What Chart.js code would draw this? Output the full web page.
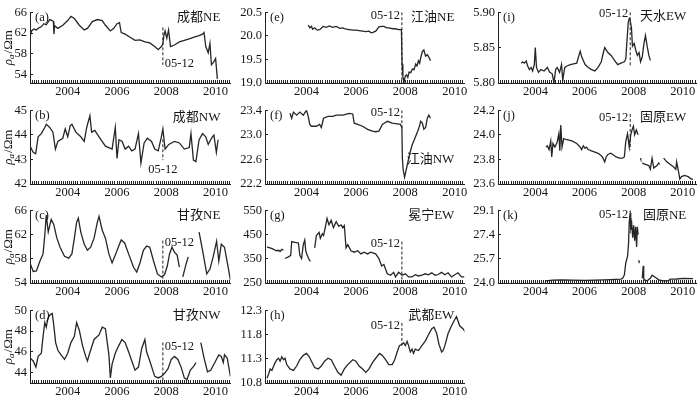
<!DOCTYPE html>
<html>
<head>
<meta charset="utf-8">
<script src="https://cdn.jsdelivr.net/npm/chart.js@4.4.1/dist/chart.umd.min.js"></script>
<style>
  html, body { margin: 0; padding: 0; background: #fff; }
  #wrap { position: relative; width: 700px; height: 397px; overflow: hidden; }
  #wrap canvas { position: absolute; }
</style>
</head>
<body>
<div id="wrap"></div>
<script>
/* ---------- data: [year, apparent resistivity]  (null = gap) ---------- */
const QUAKE = 2008.36;   // 2008-05-12

const chengduNE = [[2002.97,61.2],[2003.03,62.4],[2003.13,62.8],[2003.23,62.6],[2003.33,63.0],[2003.43,63.2],[2003.53,63.8],[2003.63,63.6],[2003.77,64.6],[2003.87,64.4],[2003.92,64.2],[2003.94,61.8],[2003.97,63.4],[2004.1,62.9],[2004.3,63.5],[2004.5,64.4],[2004.63,65.2],[2004.77,64.8],[2004.97,63.5],[2005.17,62.6],[2005.3,62.9],[2005.5,64.2],[2005.7,64.6],[2005.9,64.4],[2006.03,63.5],[2006.23,62.4],[2006.37,62.9],[2006.5,63.8],[2006.6,64.0],[2006.67,62.1],[2006.83,61.8],[2007.03,61.2],[2007.23,60.6],[2007.43,60.7],[2007.63,60.3],[2007.83,60.1],[2008.03,59.4],[2008.17,58.8],[2008.3,59.4],[2008.36,59.9],[2008.4,61.5],[2008.45,62.4],[2008.52,61.0],[2008.59,62.6],[2008.67,59.4],[2008.83,59.7],[2009.03,60.3],[2009.23,60.6],[2009.43,60.9],[2009.63,61.2],[2009.83,61.5],[2009.97,61.8],[2010.03,62.1],[2010.1,59.4],[2010.2,58.2],[2010.27,60.0],[2010.33,55.9],[2010.43,56.5],[2010.5,57.1],[2010.57,53.2]];

const chengduNW = [[2002.97,43.54],[2003.1,43.29],[2003.2,43.23],[2003.3,43.92],[2003.43,44.05],[2003.57,44.3],[2003.63,44.43],[2003.77,44.3],[2003.9,44.11],[2004.0,43.42],[2004.1,43.73],[2004.3,43.86],[2004.4,44.24],[2004.5,43.92],[2004.6,44.37],[2004.67,44.43],[2004.83,44.11],[2005.03,43.92],[2005.17,43.73],[2005.27,44.3],[2005.4,44.78],[2005.47,44.11],[2005.6,44.18],[2005.77,43.92],[2006.03,43.54],[2006.3,43.42],[2006.43,44.3],[2006.5,43.04],[2006.58,43.8],[2006.71,43.73],[2006.83,43.42],[2006.97,43.54],[2007.1,43.35],[2007.23,43.42],[2007.37,44.05],[2007.47,42.85],[2007.6,43.67],[2007.73,43.86],[2007.9,43.73],[2008.03,43.42],[2008.17,43.35],[2008.3,43.92],[2008.36,44.24],[2008.45,43.42],[2008.6,43.61],[2008.83,43.73],[2009.03,43.67],[2009.23,43.42],[2009.43,43.48],[2009.5,44.05],[2009.6,42.97],[2009.7,42.91],[2009.83,43.8],[2009.97,44.05],[2010.1,43.92],[2010.2,43.61],[2010.3,43.8],[2010.37,43.92],[2010.43,43.99],[2010.53,43.29],[2010.6,43.8]];

const ganziNE = [[2002.97,57.3],[2003.1,55.9],[2003.23,56.0],[2003.37,57.6],[2003.5,58.8],[2003.57,61.9],[2003.63,65.2],[2003.71,62.4],[2003.83,64.5],[2003.93,63.7],[2004.06,61.4],[2004.19,59.9],[2004.37,58.4],[2004.54,58.1],[2004.67,58.8],[2004.77,61.4],[2004.86,64.0],[2004.93,64.7],[2005.03,62.4],[2005.17,60.4],[2005.3,59.4],[2005.43,59.9],[2005.57,61.4],[2005.7,64.0],[2005.77,65.0],[2005.9,62.7],[2006.03,61.4],[2006.17,58.8],[2006.3,57.3],[2006.43,58.6],[2006.57,60.1],[2006.67,61.1],[2006.81,60.6],[2006.97,58.8],[2007.17,56.6],[2007.3,55.8],[2007.43,57.3],[2007.57,59.4],[2007.7,60.1],[2007.83,59.9],[2007.97,57.8],[2008.14,55.5],[2008.3,55.0],[2008.43,55.4],[2008.54,56.8],[2008.63,58.8],[2008.73,59.9],[2008.83,59.1],[2008.94,58.6],[2009.03,56.6],[2009.1,null],[2009.17,55.0],[2009.3,57.1],[2009.39,58.3],[2009.6,null],[2009.83,62.4],[2009.97,59.4],[2010.14,55.5],[2010.27,56.3],[2010.4,58.3],[2010.54,60.9],[2010.63,57.6],[2010.73,60.4],[2010.86,59.9],[2011.0,56.8],[2011.1,54.5]];

const ganziNW = [[2002.97,45.41],[2003.1,45.12],[2003.21,44.53],[2003.3,45.56],[2003.43,45.86],[2003.5,47.49],[2003.57,48.82],[2003.63,48.37],[2003.7,49.26],[2003.79,49.56],[2003.87,49.7],[2003.93,48.67],[2004.01,46.89],[2004.1,46.15],[2004.23,45.71],[2004.37,45.27],[2004.5,45.86],[2004.63,46.89],[2004.77,47.49],[2004.86,48.82],[2004.97,48.08],[2005.1,46.6],[2005.23,45.56],[2005.3,45.12],[2005.39,45.86],[2005.57,47.19],[2005.77,47.63],[2005.9,48.37],[2006.03,48.22],[2006.17,45.71],[2006.23,43.49],[2006.3,44.82],[2006.43,45.86],[2006.57,46.6],[2006.7,47.19],[2006.83,46.89],[2006.97,46.0],[2007.1,45.12],[2007.23,44.23],[2007.37,44.53],[2007.5,46.3],[2007.63,47.19],[2007.7,46.0],[2007.83,45.12],[2008.03,43.64],[2008.17,43.49],[2008.3,43.64],[2008.43,43.93],[2008.57,44.38],[2008.7,45.27],[2008.83,45.56],[2008.97,45.27],[2009.1,44.53],[2009.23,43.49],[2009.34,43.34],[2009.47,44.23],[2009.63,44.67],[2009.7,44.97],[2009.8,null],[2009.9,46.89],[2010.03,45.41],[2010.17,44.08],[2010.3,44.23],[2010.5,45.12],[2010.63,45.71],[2010.73,45.56],[2010.81,44.97],[2010.86,45.71],[2010.97,45.41],[2011.1,43.64]];

const jiangyouNE = [[2004.57,20.23],[2004.63,20.17],[2004.7,20.2],[2004.75,20.14],[2004.83,20.17],[2004.93,20.12],[2005.03,20.13],[2005.1,20.16],[2005.17,20.2],[2005.3,20.18],[2005.43,20.21],[2005.55,20.18],[2005.7,20.2],[2005.85,20.16],[2005.97,20.17],[2006.1,20.14],[2006.23,20.13],[2006.37,20.12],[2006.5,20.12],[2006.63,20.11],[2006.77,20.1],[2006.9,20.09],[2007.03,20.1],[2007.1,20.07],[2007.17,20.07],[2007.3,20.1],[2007.43,20.19],[2007.55,20.2],[2007.63,20.2],[2007.75,20.17],[2007.83,20.17],[2008.0,20.15],[2008.1,20.15],[2008.23,20.13],[2008.34,20.13],[2008.37,19.4],[2008.4,19.13],[2008.45,19.03],[2008.5,19.15],[2008.55,19.17],[2008.6,19.12],[2008.65,19.23],[2008.72,19.22],[2008.79,19.3],[2008.85,19.28],[2008.92,19.4],[2008.97,19.36],[2009.03,19.47],[2009.08,19.42],[2009.12,19.53],[2009.19,19.67],[2009.25,19.7],[2009.32,19.57],[2009.39,19.6],[2009.45,19.55],[2009.52,19.47]];

const jiangyouNW = [[2003.83,23.35],[2003.9,23.27],[2003.97,23.37],[2004.1,23.32],[2004.23,23.37],[2004.37,23.32],[2004.5,23.4],[2004.57,23.3],[2004.63,23.17],[2004.7,23.14],[2004.9,23.14],[2005.03,23.17],[2005.1,23.12],[2005.19,23.27],[2005.37,23.3],[2005.57,23.3],[2005.7,23.32],[2005.97,23.32],[2006.23,23.35],[2006.37,23.34],[2006.43,23.19],[2006.57,23.17],[2006.77,23.14],[2006.97,23.09],[2007.17,23.06],[2007.3,23.05],[2007.43,23.06],[2007.57,23.17],[2007.77,23.22],[2007.97,23.19],[2008.17,23.18],[2008.3,23.17],[2008.36,23.12],[2008.38,22.62],[2008.41,22.44],[2008.47,22.31],[2008.53,22.42],[2008.6,22.55],[2008.67,22.68],[2008.77,22.83],[2008.87,22.93],[2009.0,23.06],[2009.07,23.14],[2009.12,23.22],[2009.19,23.19],[2009.25,23.09],[2009.32,23.12],[2009.39,23.27],[2009.45,23.32],[2009.52,23.27]];

const mianningEW = [[2002.9,398],[2003.03,395],[2003.17,389],[2003.27,383],[2003.37,385],[2003.43,380],[2003.5,389],[2003.57,385],[2003.6,null],[2003.63,351],[2003.77,358],[2003.86,364],[2003.9,421],[2004.03,418],[2004.17,415],[2004.23,364],[2004.3,351],[2004.37,408],[2004.43,427],[2004.47,383],[2004.53,364],[2004.61,345],[2004.66,339],[2004.75,null],[2004.83,395],[2004.9,446],[2005.01,459],[2005.06,434],[2005.14,453],[2005.19,446],[2005.27,484],[2005.33,516],[2005.41,490],[2005.5,509],[2005.59,478],[2005.7,503],[2005.81,484],[2005.9,490],[2005.97,478],[2006.03,487],[2006.1,395],[2006.17,408],[2006.3,383],[2006.43,377],[2006.57,383],[2006.7,370],[2006.83,377],[2006.97,370],[2007.1,377],[2007.3,370],[2007.43,351],[2007.54,320],[2007.63,326],[2007.77,288],[2007.9,282],[2008.03,294],[2008.1,275],[2008.23,294],[2008.37,282],[2008.5,288],[2008.63,275],[2008.77,275],[2008.9,284],[2009.03,279],[2009.17,282],[2009.3,288],[2009.43,284],[2009.57,292],[2009.7,282],[2009.83,285],[2009.97,294],[2010.1,284],[2010.23,292],[2010.37,275],[2010.5,284],[2010.63,292],[2010.77,275],[2010.9,275]];

const wuduEW = [[2002.9,10.9],[2002.97,10.99],[2003.03,11.09],[2003.1,11.06],[2003.17,11.15],[2003.23,11.22],[2003.3,11.28],[2003.37,11.31],[2003.43,11.25],[2003.5,11.34],[2003.57,11.28],[2003.63,11.31],[2003.7,11.18],[2003.83,11.09],[2003.97,11.06],[2004.1,11.15],[2004.23,11.28],[2004.37,11.37],[2004.5,11.41],[2004.61,11.34],[2004.7,11.25],[2004.83,11.12],[2004.97,11.09],[2005.1,11.15],[2005.23,11.25],[2005.37,11.31],[2005.5,11.28],[2005.63,11.15],[2005.77,11.02],[2005.9,10.96],[2006.03,11.09],[2006.17,11.18],[2006.37,11.28],[2006.5,11.25],[2006.63,11.15],[2006.77,11.09],[2006.9,11.02],[2007.03,11.09],[2007.17,11.22],[2007.3,11.31],[2007.46,11.41],[2007.57,11.37],[2007.7,11.28],[2007.83,11.18],[2007.97,11.18],[2008.07,11.28],[2008.17,11.44],[2008.26,11.57],[2008.37,11.6],[2008.43,11.63],[2008.5,11.57],[2008.57,11.66],[2008.63,11.57],[2008.7,11.44],[2008.77,11.5],[2008.83,11.41],[2008.9,11.5],[2009.03,11.47],[2009.17,11.57],[2009.3,11.66],[2009.43,11.79],[2009.57,11.92],[2009.66,11.95],[2009.77,11.82],[2009.86,11.6],[2009.97,11.44],[2010.03,11.47],[2010.1,11.57],[2010.23,11.82],[2010.37,11.98],[2010.5,12.11],[2010.57,12.17],[2010.63,12.08],[2010.7,11.98],[2010.83,11.92],[2010.97,11.82]];

const tianshuiEW = [[2003.92,5.828],[2003.98,5.830],[2004.05,5.828],[2004.12,5.831],[2004.18,5.824],[2004.25,5.819],[2004.32,5.822],[2004.38,5.817],[2004.45,5.826],[2004.49,5.850],[2004.54,5.822],[2004.62,5.815],[2004.72,5.819],[2004.85,5.817],[2004.98,5.822],[2005.08,5.815],[2005.18,5.813],[2005.25,5.800],[2005.32,5.819],[2005.38,5.822],[2005.48,5.815],[2005.56,5.826],[2005.61,5.804],[2005.69,5.822],[2005.78,5.824],[2005.92,5.826],[2006.05,5.827],[2006.18,5.828],[2006.25,5.837],[2006.32,5.845],[2006.38,5.837],[2006.52,5.826],[2006.65,5.822],[2006.78,5.819],[2006.92,5.817],[2007.05,5.822],[2007.18,5.830],[2007.25,5.841],[2007.32,5.850],[2007.45,5.843],[2007.58,5.839],[2007.72,5.832],[2007.85,5.826],[2007.98,5.828],[2008.12,5.830],[2008.18,5.834],[2008.22,5.856],[2008.28,5.886],[2008.32,5.891],[2008.36,5.888],[2008.41,5.878],[2008.45,5.852],[2008.52,5.856],[2008.58,5.847],[2008.65,5.839],[2008.72,5.843],[2008.78,5.830],[2008.85,5.837],[2008.92,5.856],[2008.98,5.867],[2009.05,5.852],[2009.12,5.839],[2009.18,5.832]];

const guyuanEW = [[2004.92,23.90],[2004.98,23.91],[2005.05,23.88],[2005.12,23.95],[2005.16,23.82],[2005.21,23.93],[2005.29,23.90],[2005.38,23.94],[2005.45,24.01],[2005.49,23.87],[2005.53,24.08],[2005.58,23.90],[2005.65,23.97],[2005.78,23.96],[2005.98,23.95],[2006.18,23.93],[2006.32,23.90],[2006.38,23.88],[2006.45,23.91],[2006.52,23.89],[2006.58,23.90],[2006.65,23.88],[2006.78,23.87],[2006.92,23.86],[2007.05,23.85],[2007.18,23.83],[2007.25,23.81],[2007.32,23.78],[2007.38,23.82],[2007.45,23.84],[2007.56,23.85],[2007.65,23.84],[2007.78,23.82],[2007.92,23.81],[2008.05,23.81],[2008.12,23.82],[2008.18,23.95],[2008.25,24.01],[2008.32,23.90],[2008.38,24.0],[2008.45,24.05],[2008.49,24.07],[2008.54,24.0],[2008.61,24.04],[2008.68,24.0],[2008.72,null],[2008.77,23.81],[2008.79,23.80],[2008.81,null],[2008.85,23.77],[2008.98,23.76],[2009.12,23.75],[2009.18,23.72],[2009.25,23.81],[2009.32,23.73],[2009.45,23.75],[2009.52,23.77],[2009.56,23.76],[2009.62,null],[2009.72,23.81],[2009.85,23.78],[2009.98,23.76],[2010.12,23.74],[2010.22,23.72],[2010.25,23.78],[2010.32,23.71],[2010.38,23.64],[2010.45,23.66],[2010.58,23.67],[2010.72,23.66],[2010.85,23.64],[2010.92,23.64]];

const guyuanNE = [[2004.92,24.15],[2005.2,24.2],[2005.58,24.22],[2006.0,24.2],[2006.5,24.18],[2006.92,24.2],[2007.3,24.22],[2007.58,24.24],[2007.98,24.27],[2008.05,24.33],[2008.12,24.55],[2008.18,25.42],[2008.25,25.86],[2008.29,26.74],[2008.32,28.27],[2008.36,28.92],[2008.38,27.72],[2008.42,28.16],[2008.46,27.17],[2008.5,28.05],[2008.54,26.96],[2008.58,27.94],[2008.62,26.52],[2008.65,27.94],[2008.68,27.39],[2008.7,null],[2008.71,25.6],[2008.73,25.4],[2008.75,null],[2008.85,24.33],[2008.89,25.2],[2008.91,24.3],[2008.94,24.22],[2009.05,24.15],[2009.18,24.33],[2009.25,24.55],[2009.38,24.4],[2009.52,24.22],[2009.72,24.15],[2009.92,24.15],[2009.98,24.27],[2010.25,24.28],[2010.52,24.33],[2010.92,24.3]];

/* ---------- y tick labels per panel ---------- */
const ticksA = [54, 58, 62, 66];
const ticksB = [42, 43, 44, 45];
const ticksC = [54, 58, 62, 66];
const ticksD = [44, 46, 48, 50];
const ticksE = [19.0, 19.5, 20.0, 20.5];
const ticksF = [22.2, 22.6, 23.0, 23.4];
const ticksG = [250, 350, 450, 550];
const ticksH = [10.8, 11.3, 11.8, 12.3];
const ticksI = [5.80, 5.85, 5.90];
const ticksJ = [23.6, 23.8, 24.0, 24.2];
const ticksK = [24.0, 25.7, 27.4, 29.1];

/* ---------- layout ---------- */
const cols = [
  { left: 0,   width: 235, axisW: 30, padR: 2, xmin: 2002.97, xmax: 2011.1 },
  { left: 235, width: 233, axisW: 30, padR: 1, xmin: 2002.82, xmax: 2010.89 },
  { left: 466, width: 234, axisW: 32, padR: 0, xmin: 2002.97, xmax: 2011.05 }
];
const rows = [ { top: 0, h: 97 }, { top: 98, h: 100 }, { top: 198, h: 99 }, { top: 298, h: 99 } ];
const PAD_TOP = 7, XAXIS_H = 14;

const panels = [
  { k:'a', name:'成都NE', data:chengduNE, col:0, row:0, min:52.4, max:66,   ticks:ticksA, dec:0, mark:[63.1,55.9],  labY:56.2,  side:'right',  nameDy:5 },
  { k:'b', name:'成都NW', data:chengduNW, col:0, row:1, min:42,   max:45,   ticks:ticksB, dec:0, mark:[43.82,42.97],labY:42.6,  side:'center', nameDy:7 },
  { k:'c', name:'甘孜NE', data:ganziNE,   col:0, row:2, min:54,   max:66,   ticks:ticksC, dec:0, mark:[61.0,54],    labY:60.6,  side:'right',  nameDy:5 },
  { k:'d', name:'甘孜NW', data:ganziNW,   col:0, row:3, min:43,   max:50,   ticks:ticksD, dec:0, mark:[46.9,43],    labY:46.5,  side:'right',  nameDy:5 },
  { k:'e', name:'江油NE', data:jiangyouNE,col:1, row:0, min:19.0, max:20.5, ticks:ticksE, dec:1, mark:[20.5,19.0],  labY:20.43, side:'left',   nameDy:5 },
  { k:'f', name:'江油NW', data:jiangyouNW,col:1, row:1, min:22.2, max:23.4, ticks:ticksF, dec:1, mark:[23.4,23.09], labY:23.36, side:'left',   nameDy:49 },
  { k:'g', name:'冕宁EW', data:mianningEW,col:1, row:2, min:250,  max:550,  ticks:ticksG, dec:0, mark:[421,250],    labY:414,   side:'left',   nameDy:5 },
  { k:'h', name:'武都EW', data:wuduEW,    col:1, row:3, min:10.8, max:12.3, ticks:ticksH, dec:1, mark:[12.04,11.57],labY:11.98, side:'left',   nameDy:5 },
  { k:'i', name:'天水EW', data:tianshuiEW,col:2, row:0, min:5.80, max:5.90, ticks:ticksI, dec:2, mark:[5.9,5.824],  labY:5.898, side:'left',   nameDy:4 },
  { k:'j', name:'固原EW', data:guyuanEW,  col:2, row:1, min:23.6, max:24.2, ticks:ticksJ, dec:1, mark:[24.17,23.88],labY:24.14, side:'left',   nameDy:7 },
  { k:'k', name:'固原NE', data:guyuanNE,  col:2, row:2, min:24.0, max:29.1, ticks:ticksK, dec:1, mark:[29.1,27.4],  labY:28.8,  side:'left',   nameDy:5 }
];

const SERIF = '"Liberation Serif", "Times New Roman", serif';
const INK = '#161616';

Chart.defaults.font.family = SERIF;
Chart.defaults.font.size = 12.5;
Chart.defaults.color = INK;

/* panel letter, station name, 05-12 note, y title */
const panelText = {
  id: 'panelText',
  afterDraw(chart, args, o) {
    const { ctx, chartArea: a, scales: { x, y } } = chart;
    ctx.save();
    ctx.fillStyle = INK;
    ctx.textBaseline = 'middle';

    ctx.font = '12.5px ' + SERIF;
    ctx.textAlign = 'left';
    ctx.fillText('(' + o.k + ')', a.left + 5, a.top + 5);

    ctx.font = '13px "Liberation Serif", "Noto Sans CJK SC", serif';
    ctx.textAlign = 'right';
    ctx.fillText(o.name, a.right - 10, a.top + o.nameDy);

    ctx.font = '12.5px ' + SERIF;
    const qx = x.getPixelForValue(QUAKE), qy = y.getPixelForValue(o.labY);
    if (o.side === 'right')      { ctx.textAlign = 'left';   ctx.fillText('05-12', qx + 2, qy); }
    else if (o.side === 'left')  { ctx.textAlign = 'right';  ctx.fillText('05-12', qx - 2, qy); }
    else                         { ctx.textAlign = 'center'; ctx.fillText('05-12', qx, qy); }

    if (o.col === 0) {
      ctx.translate(a.left - 21, (a.top + a.bottom) / 2);
      ctx.rotate(-Math.PI / 2);
      ctx.textAlign = 'left';
      const f1 = 'italic 13px ' + SERIF, f2 = 'italic 9px ' + SERIF, f3 = '13px ' + SERIF;
      ctx.font = f1; const w1 = ctx.measureText('ρ').width;
      ctx.font = f2; const w2 = ctx.measureText('a').width;
      ctx.font = f3; const w3 = ctx.measureText('/Ωm').width;
      let sx = -(w1 + w2 + 1 + w3) / 2;
      ctx.font = f1; ctx.fillText('ρ', sx, 0); sx += w1;
      ctx.font = f2; ctx.fillText('a', sx, 3); sx += w2 + 1;
      ctx.font = f3; ctx.fillText('/Ωm', sx, 0);
    }
    ctx.restore();
  }
};
Chart.register(panelText);

const wrap = document.getElementById('wrap');

panels.forEach(p => {
  const c = cols[p.col], r = rows[p.row];
  const cv = document.createElement('canvas');
  cv.width = c.width; cv.height = r.h;
  cv.style.left = c.left + 'px'; cv.style.top = r.top + 'px';
  cv.style.width = c.width + 'px'; cv.style.height = r.h + 'px';
  wrap.appendChild(cv);

  new Chart(cv, {
    type: 'line',
    data: {
      datasets: [
        { data: p.data.map(d => ({ x: d[0], y: d[1] })),
          borderColor: '#262626', borderWidth: 1.3, pointRadius: 0, tension: 0, spanGaps: false },
        { data: [{ x: QUAKE, y: p.mark[0] }, { x: QUAKE, y: p.mark[1] }],
          borderColor: '#222', borderWidth: 1, borderDash: [3, 2], pointRadius: 0 }
      ]
    },
    options: {
      responsive: false,
      animation: false,
      events: [],
      layout: { padding: { top: PAD_TOP, right: c.padR, left: 0, bottom: 0 } },
      scales: {
        x: {
          type: 'linear', min: c.xmin, max: c.xmax,
          afterFit: s => { s.height = XAXIS_H; },
          afterBuildTicks: s => {
            const out = [];
            for (let m = Math.ceil(s.min * 12); m <= Math.floor(s.max * 12); m++) out.push({ value: m / 12 });
            s.ticks = out;
          },
          ticks: {
            autoSkip: false, maxRotation: 0, padding: 5, font: { size: 12.5, lineHeight: 1 },
            callback: v => {
              const yr = v - 0.5, rn = Math.round(yr);
              return (Math.abs(yr - rn) < 1e-6 && rn % 2 === 0) ? String(rn) : '';
            }
          },
          grid: { drawOnChartArea: false, drawTicks: true, tickLength: -3, color: '#222', lineWidth: 1 },
          border: { display: true, color: '#222', width: 1 }
        },
        y: {
          min: p.min, max: p.max,
          afterFit: s => { s.width = c.axisW; },
          afterBuildTicks: s => { s.ticks = p.ticks.map(v => ({ value: v })); },
          ticks: { padding: 6, font: { size: 12.5, lineHeight: 1 }, callback: v => Number(v).toFixed(p.dec) },
          grid: { drawOnChartArea: false, drawTicks: true, tickLength: -3, color: '#222', lineWidth: 1 },
          border: { display: true, color: '#222', width: 1 }
        }
      },
      plugins: {
        legend: { display: false },
        tooltip: { enabled: false },
        panelText: { k: p.k, name: p.name, side: p.side, labY: p.labY, nameDy: p.nameDy, col: p.col }
      }
    }
  });
});
</script>
</body>
</html>
